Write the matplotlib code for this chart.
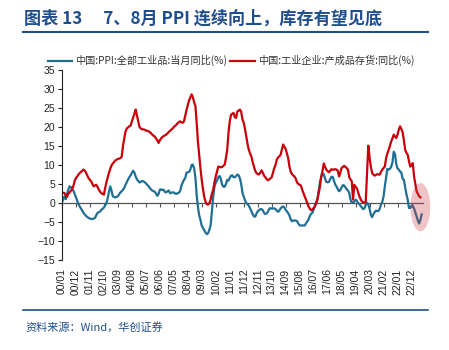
import matplotlib
matplotlib.use("Agg")
import matplotlib.pyplot as plt
from matplotlib.patches import Ellipse
import numpy as np

plt.rcParams['font.family'] = ['Liberation Sans', 'Noto Sans CJK SC', 'DejaVu Sans']

# 中国:PPI:全部工业品:当月同比(%), monthly from 2000/01
ppi = [
    0.2, 1.0, 1.75, 1.0, 2.5, 3.5, 4.4, 4.2, 3.7, 3.2, 2.4, 1.5,         # 2000
    0.6, -0.3, -0.9, -1.5, -2.0, -2.6, -3.0, -3.4, -3.7, -3.9, -4.1, -4.2,  # 2001
    -4.2, -4.1, -3.9, -3.2, -2.6, -2.4, -2.2, -1.8, -1.5, -1.2, -0.6, 0.0,  # 2002
    1.3, 3.0, 4.4, 3.2, 1.8, 1.6, 1.5, 1.6, 1.8, 2.3, 2.8, 3.1,          # 2003
    3.5, 4.0, 4.8, 5.5, 6.2, 6.8, 7.3, 7.9, 8.5, 8.0, 7.0, 6.2,          # 2004
    5.8, 5.4, 5.6, 5.8, 5.7, 5.5, 5.2, 4.8, 4.5, 4.0, 3.6, 3.3,          # 2005
    3.1, 3.0, 2.5, 1.9, 2.4, 3.5, 3.6, 3.4, 3.5, 2.9, 2.8, 3.1,          # 2006
    3.3, 2.6, 2.7, 2.8, 2.8, 2.5, 2.4, 2.6, 2.7, 3.2, 4.6, 5.4,          # 2007
    6.1, 6.6, 8.0, 8.1, 8.2, 8.8, 10.0, 10.1, 9.1, 6.6, 2.0, -1.1,       # 2008
    -3.3, -4.5, -6.0, -6.6, -7.2, -7.8, -8.2, -7.9, -7.0, -5.8, -2.1, 1.7,  # 2009
    4.3, 5.4, 5.9, 6.8, 7.1, 6.4, 4.8, 4.3, 4.3, 5.0, 6.1, 5.9,          # 2010
    6.6, 7.2, 7.3, 6.8, 6.8, 7.1, 7.5, 7.3, 6.5, 5.0, 2.7, 1.7,          # 2011
    0.7, 0.0, -0.3, -0.7, -1.4, -2.1, -2.9, -3.5, -3.6, -2.8, -2.2, -1.9,  # 2012
    -1.6, -1.6, -1.9, -2.6, -2.9, -2.7, -2.3, -1.6, -1.3, -1.5, -1.4, -1.4,  # 2013
    -1.6, -2.0, -2.3, -2.0, -1.4, -1.1, -0.9, -1.2, -1.8, -2.2, -2.7, -3.3,  # 2014
    -4.3, -4.8, -4.6, -4.6, -4.6, -4.8, -5.4, -5.9, -5.9, -5.9, -5.9, -5.9,  # 2015
    -5.3, -4.9, -4.3, -3.4, -2.8, -2.6, -1.7, -0.8, 0.1, 1.2, 3.3, 5.5,  # 2016
    6.9, 7.8, 7.6, 6.4, 5.5, 5.5, 5.5, 6.3, 6.9, 6.9, 5.8, 4.9,          # 2017
    4.3, 3.7, 3.1, 3.4, 4.1, 4.7, 4.6, 4.1, 3.6, 3.3, 2.7, 0.9,          # 2018
    0.1, 0.1, 0.4, 0.9, 0.6, 0.0, -0.3, -0.8, -1.2, -1.6, -1.4, -0.5,    # 2019
    0.1, -0.4, -1.5, -3.1, -3.7, -3.0, -2.4, -2.0, -2.1, -2.1, -1.5, -0.4,  # 2020
    0.3, 1.7, 4.4, 6.8, 9.0, 8.8, 9.0, 9.5, 10.7, 13.5, 12.9, 10.3,      # 2021
    9.1, 8.8, 8.3, 8.0, 6.4, 6.1, 4.2, 2.3, 0.9, -1.3, -1.3, -0.7,       # 2022
    -0.8, -1.4, -2.5, -3.6, -4.6, -5.4, -4.4, -3.0,                      # 2023
]

# 中国:工业企业:产成品存货:同比(%), monthly from 2000/01
inventory = [
    2.8, 2.7, 2.6, 2.0, 1.6, 2.5, 2.8, 3.2, 3.7, 4.5, 5.8, 6.6,          # 2000
    7.0, 7.5, 7.9, 8.2, 8.5, 8.8, 8.5, 7.9, 7.2, 6.5, 6.1, 5.7,          # 2001
    5.0, 4.4, 4.6, 4.8, 4.2, 3.5, 3.0, 2.6, 2.4, 2.2, 4.0, 5.5,          # 2002
    6.8, 8.0, 9.0, 9.9, 10.4, 10.8, 11.2, 11.4, 11.6, 11.7, 11.8, 12.2,  # 2003
    15.0, 17.0, 18.8, 19.6, 19.9, 20.2, 20.4, 21.5, 22.5, 23.5, 24.6, 23.0,  # 2004
    21.5, 20.0, 19.6, 19.4, 19.4, 19.3, 19.1, 19.0, 18.9, 18.7, 18.4, 18.0,  # 2005
    17.7, 17.5, 17.0, 16.5, 15.8, 16.5, 17.0, 17.4, 17.6, 17.8, 18.0, 18.3,  # 2006
    18.7, 19.0, 19.3, 19.6, 20.0, 20.3, 20.6, 21.0, 21.3, 21.5, 21.2, 21.1,  # 2007
    21.5, 23.0, 24.5, 25.7, 27.0, 27.8, 28.6, 27.8, 26.5, 25.5, 21.0, 16.0,  # 2008
    12.5, 9.0, 6.0, 3.5, 1.5, 0.3, -0.3, -0.4, 0.0, 1.0, 2.5, 3.5,       # 2009
    5.5, 7.0, 8.3, 9.6, 9.5, 9.4, 9.5, 9.8, 10.1, 11.8, 14.0, 18.4,      # 2010
    21.5, 23.2, 23.5, 23.7, 22.6, 22.4, 24.1, 24.3, 24.6, 24.0, 22.0, 21.1,  # 2011
    19.5, 17.5, 15.5, 14.0, 13.0, 12.3, 10.8, 9.6, 8.5, 7.9, 7.6, 7.5,   # 2012
    8.0, 8.6, 8.0, 7.2, 6.8, 6.3, 6.0, 6.2, 6.5, 6.8, 8.0, 9.2,          # 2013
    10.0, 11.4, 12.0, 12.3, 12.7, 14.0, 15.4, 14.8, 14.2, 13.0, 11.8, 9.5,  # 2014
    8.2, 7.6, 7.2, 7.0, 6.3, 5.4, 5.0, 4.8, 4.6, 3.5, 2.6, 1.7,          # 2015
    0.9, 0.0, -0.9, -1.5, -1.9, -1.7, -1.3, -0.9, 0.0, 0.9, 2.6, 4.4,    # 2016
    7.0, 8.5, 10.4, 9.5, 8.8, 8.4, 8.1, 8.5, 8.9, 8.8, 8.8, 8.9,         # 2017
    8.8, 8.5, 7.0, 8.0, 9.2, 9.5, 9.8, 9.5, 9.2, 8.8, 6.8, 6.2,          # 2018
    5.7, 0.9, 4.8, 4.3, 3.9, 2.8, 1.75, 1.0, 0.4, 0.2, 0.0, 0.5,         # 2019
    7.5, 15.1, 12.0, 9.6, 7.9, 7.5, 7.2, 7.4, 7.6, 7.5, 7.5, 8.2,        # 2020
    8.8, 9.2, 9.6, 11.8, 13.0, 14.0, 15.0, 16.2, 17.0, 18.0, 17.5, 17.1,  # 2021
    18.0, 19.3, 20.2, 19.5, 18.6, 16.5, 14.0, 13.2, 12.7, 11.0, 9.6, 10.0,  # 2022
    10.5, 7.0, 5.0, 3.1, 2.4, 1.75, 1.5,                                 # 2023
]

tick_labels = ["00/01", "00/12", "01/11", "02/10", "03/09", "04/08", "05/07",
               "06/06", "07/05", "08/04", "09/03", "10/02", "11/01", "11/12",
               "12/11", "13/10", "14/09", "15/08", "16/07", "17/06", "18/05",
               "19/04", "20/03", "21/02", "22/01", "22/12"]

blue = '#1f6f95'
red = '#c8000a'
navy = '#1f4e8c'

fig = plt.figure(figsize=(4.49, 3.5), dpi=100)

# title and frame lines
fig.text(0.054, 0.948, "图表 13\u2003 7、8月 PPI 连续向上，库存有望见底",
         family=['Noto Sans CJK SC', 'DejaVu Sans'], fontsize=12.3, fontweight='bold',
         color=navy, va='center')
fig.add_artist(plt.Line2D([0.051, 0.953], [0.908, 0.908], color=navy, lw=1.5))
fig.add_artist(plt.Line2D([0.051, 0.953], [0.114, 0.114], color=navy, lw=1.2))
fig.text(0.056, 0.066, "资料来源：Wind，华创证券", family=['Noto Sans CJK SC'],
         fontsize=8, color=navy, style='italic', va='center')

ax = fig.add_axes([0.138, 0.257, 0.804, 0.543])
x_ppi = np.arange(len(ppi))
x_inv = np.arange(len(inventory))
ax.plot(x_ppi, ppi, color=blue, lw=1.6, label="中国:PPI:全部工业品:当月同比(%)")
ax.plot(x_inv, inventory, color=red, lw=1.6, label="中国:工业企业:产成品存货:同比(%)")

ax.set_xlim(0, 284)
ax.set_ylim(-15, 35)
ax.set_yticks(np.arange(-15, 36, 5))
ax.tick_params(axis='y', labelsize=7.5, length=3, width=0.8, colors='#222222', pad=2)

ticks = np.arange(len(tick_labels)) * 11
ax.set_xticks(ticks)
ax.set_xticklabels(tick_labels, rotation=90, fontsize=7.5, color='#222222')
ax.tick_params(axis='x', length=0, pad=6)

for side in ['top', 'right', 'bottom']:
    ax.spines[side].set_visible(False)
ax.spines['left'].set_color('#222222')
ax.spines['left'].set_linewidth(0.8)

# zero line with its own ticks
zero_ax = ax.secondary_xaxis(0.3)
zero_ax.set_xticks(ticks)
zero_ax.tick_params(axis='x', length=3, width=0.8, color='#555555', labelbottom=False)
zero_ax.spines['bottom'].set_color('#555555')
zero_ax.spines['bottom'].set_linewidth(0.9)

# highlight of the latest readings
last = len(ppi) - 1
ax.add_patch(Ellipse((last - 1, -1.1), 15.5, 12.7, color='#c83c46', alpha=0.3,
                     lw=0, clip_on=False, zorder=5))

leg = ax.legend(loc='upper left', bbox_to_anchor=(-0.05, 1.1), ncol=2, frameon=False,
                prop={'family': ['Noto Sans CJK SC'], 'size': 7.3},
                handlelength=2.4, handletextpad=0.3, columnspacing=0.3,
                borderaxespad=0)
for t in leg.get_texts():
    t.set_color('#333333')

fig.savefig("out.png", dpi=100)
